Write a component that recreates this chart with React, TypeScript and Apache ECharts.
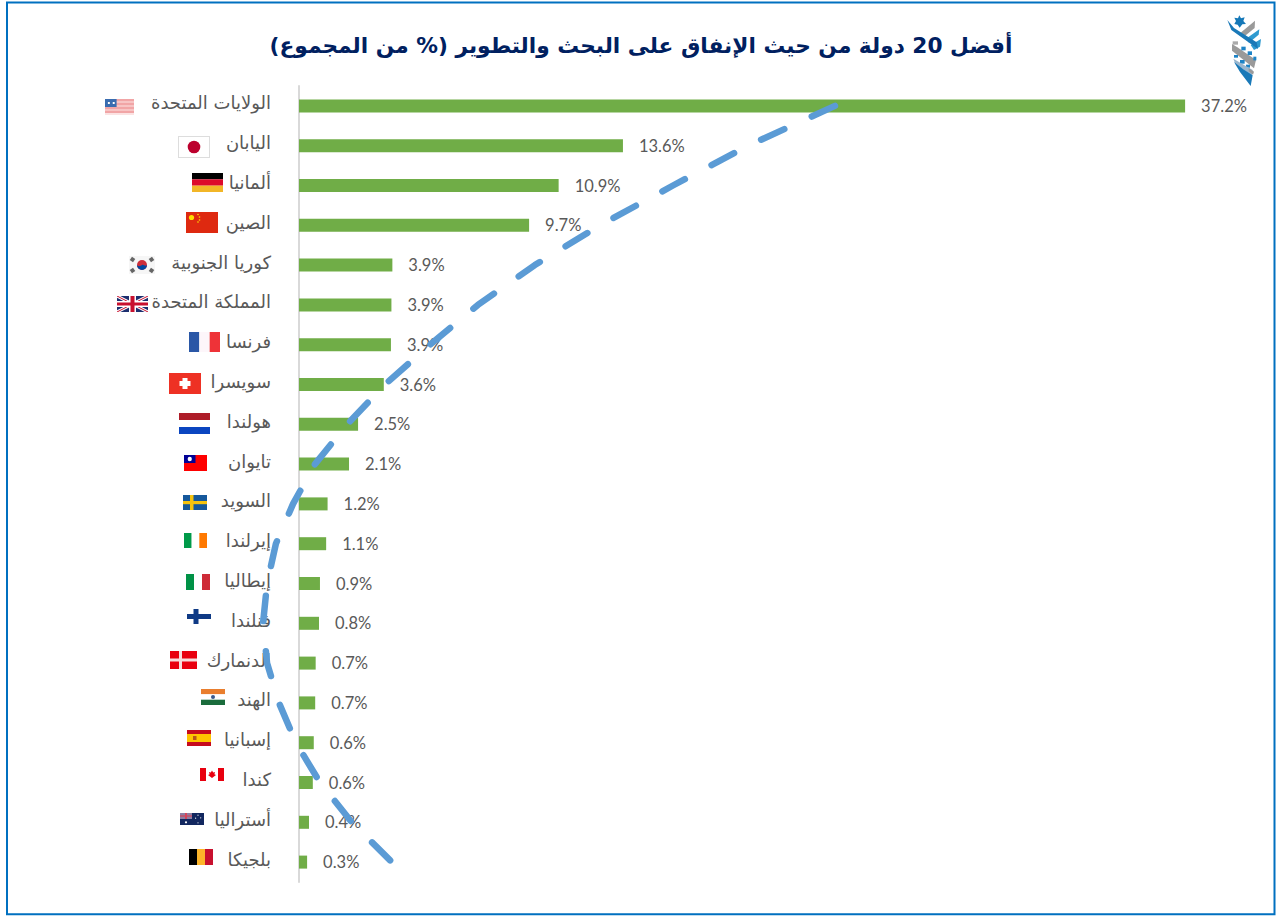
import React, { useEffect, useRef } from "react";
import * as echarts from "echarts";

const titleText = "أفضل 20 دولة من حيث الإنفاق على البحث والتطوير (% من المجموع)\u200F";
const countries = [
  "الولايات المتحدة", "اليابان", "ألمانيا", "الصين", "كوريا الجنوبية",
  "المملكة المتحدة", "فرنسا", "سويسرا", "هولندا", "تايوان",
  "السويد", "إيرلندا", "إيطاليا", "فنلندا", "الدنمارك",
  "الهند", "إسبانيا", "كندا", "أستراليا", "بلجيكا",
];
const shares = [37.2, 13.6, 10.9, 9.66, 3.92, 3.88, 3.86, 3.56, 2.48, 2.1, 1.2, 1.14, 0.88, 0.84, 0.7, 0.68, 0.62, 0.58, 0.42, 0.34];
const trend = [22.5, 18.85, 15.7, 12.64, 9.9, 7.51, 5.5, 3.61, 2.02, 0.67, -0.25, -0.97, -1.34, -1.51, -1.34, -0.84, -0.13, 0.88, 2.22, 3.9];

const svg = (w: number, h: number, body: string) =>
  "data:image/svg+xml;charset=utf-8," +
  encodeURIComponent(`<svg xmlns="http://www.w3.org/2000/svg" viewBox="0 0 ${w} ${h}" preserveAspectRatio="none">${body}</svg>`);
const r = (x: number, y: number, w: number, h: number, f: string) => `<rect x="${x}" y="${y}" width="${w}" height="${h}" fill="${f}"/>`;
const hBands = (cols: string[]) => svg(30, cols.length * 10, cols.map((c, i) => r(0, i * 10, 30, 10, c)).join(""));
const vBands = (cols: string[]) => svg(cols.length * 10, 20, cols.map((c, i) => r(i * 10, 0, 10, 20, c)).join(""));

const usStripes = Array.from({ length: 7 }, (_, i) => r(0, i * 2 + 0.5, 30, 1, i % 2 ? "#f4a6a6" : "#e8686a")).join("");
const flagUS = svg(30, 16, r(0, 0, 30, 16, "#fbe3e3") + usStripes + r(0, 0, 12, 8, "#3a6db0") + r(3, 3, 2, 2, "#fff") + r(8, 3, 2, 2, "#fff"));
const flagJP = svg(32, 22, `<rect x="0.5" y="0.5" width="31" height="21" fill="#fff" stroke="#ddd"/><circle cx="16" cy="11" r="6.3" fill="#bc002d"/>`);
const flagDE = hBands(["#000000", "#dd0a2a", "#f2b627"]);
const flagCN = svg(32, 21, r(0, 0, 32, 21, "#de2910") + `<circle cx="5.5" cy="5.5" r="2.6" fill="#ffde00"/><circle cx="12" cy="2.5" r=".8" fill="#ffde00"/><circle cx="13.5" cy="5" r=".8" fill="#ffde00"/><circle cx="13.5" cy="8" r=".8" fill="#ffde00"/><circle cx="12" cy="10" r=".8" fill="#ffde00"/>`);
const flagKR = svg(26, 18, r(0, 0, 26, 18, "#f6f6f6") + `<circle cx="13" cy="9" r="5" fill="#cd2e3a"/><path d="M8 9a5 5 0 0 0 10 0c-2 2-3-1-5 0s-3 2-5 0z" fill="#0047a0"/><g fill="#666"><rect x="1.5" y="1.5" width="4" height="4" transform="rotate(35 3.5 3.5)"/><rect x="20.5" y="1.5" width="4" height="4" transform="rotate(-35 22.5 3.5)"/><rect x="1.5" y="12.5" width="4" height="4" transform="rotate(-35 3.5 14.5)"/><rect x="20.5" y="12.5" width="4" height="4" transform="rotate(35 22.5 14.5)"/></g>`);
const flagUK = svg(31, 16, r(0, 0, 31, 16, "#1d2f6f") + `<path d="M0 0L31 16M31 0L0 16" stroke="#fff" stroke-width="3"/><path d="M0 0L31 16M31 0L0 16" stroke="#c8102e" stroke-width="1"/>` + r(12, 0, 7, 16, "#fff") + r(0, 5, 31, 6, "#fff") + r(13.5, 0, 4, 16, "#c8102e") + r(0, 6.5, 31, 3, "#c8102e"));
const flagFR = vBands(["#2a57a6", "#fdf6fa", "#ee3338"]);
const flagCH = svg(32, 21, r(0, 0, 32, 21, "#ee3124") + r(13.5, 5, 5, 11, "#fff") + r(10.5, 8, 11, 5, "#fff"));
const flagNL = hBands(["#ae1c28", "#ffffff", "#0a45c0"]);
const flagTW = svg(24, 16, r(0, 0, 24, 16, "#fe0000") + r(0, 0, 12, 8, "#000095") + `<circle cx="6" cy="4" r="2.2" fill="#fff"/>`);
const flagSE = svg(24, 15, r(0, 0, 24, 15, "#15589b") + r(7, 0, 3.5, 15, "#f4c20d") + r(0, 6, 24, 3.2, "#f4c20d"));
const flagIE = vBands(["#009a49", "#ffffff", "#ff7900"]);
const flagIT = vBands(["#009246", "#ffffff", "#ce2b37"]);
const flagFI = svg(24, 15, r(0, 0, 24, 15, "#ffffff") + r(6.5, 0, 5, 15, "#0f3a85") + r(0, 5, 24, 5, "#0f3a85"));
const flagDK = svg(27, 18, r(0, 0, 27, 18, "#e9000f") + r(9, 0, 3, 18, "#f6dede") + r(0, 7.5, 27, 3, "#f6dede"));
const flagIN = svg(24, 16, r(0, 0, 24, 5.3, "#e97e2e") + r(0, 5.3, 24, 5.4, "#ffffff") + r(0, 10.7, 24, 5.3, "#1a6c3c") + `<circle cx="12" cy="8" r="2" fill="#3a5a8c"/>`);
const flagES = svg(24, 16, r(0, 0, 24, 16, "#c60b1e") + r(0, 4, 24, 8, "#ffc400") + r(6, 6, 3.5, 4, "#b8561a"));
const flagCA = svg(24, 13, r(0, 0, 24, 13, "#ffffff") + r(0, 0, 6, 13, "#e8000f") + r(18, 0, 6, 13, "#e8000f") + `<path d="M12 2.5l1.2 2 1.8-.6-.6 2.4 1.6.6-4 3-4-3 1.6-.6-.6-2.4 1.8.6z" fill="#e8000f"/>`);
const flagAU = svg(24, 12, r(0, 0, 24, 12, "#12275f") + r(0, 0, 12, 6, "#8d7fa2") + r(0, 2.4, 12, 1.2, "#d5455a") + r(5, 0, 2, 6, "#d5455a") + `<g fill="#fff"><circle cx="6" cy="9.3" r="1.1"/><circle cx="18" cy="2.2" r=".6"/><circle cx="20.7" cy="4.8" r=".6"/><circle cx="15.6" cy="5.2" r=".6"/><circle cx="18" cy="9.8" r=".6"/></g>`);
const flagBE = vBands(["#000000", "#fdb52a", "#c8102e"]);

const flagSources = [flagUS, flagJP, flagDE, flagCN, flagKR, flagUK, flagFR, flagCH, flagNL, flagTW, flagSE, flagIE, flagIT, flagFI, flagDK, flagIN, flagES, flagCA, flagAU, flagBE];
const flagBoxes = [
  [105, 99, 29, 16], [178, 136, 32, 22], [192, 173, 31, 19], [186, 212, 32, 21], [129, 256, 26, 18],
  [117, 296, 31, 16], [189, 332, 31, 20], [169, 373, 32, 21], [179, 413, 31, 21], [184, 455, 23, 16],
  [183, 495, 24, 15], [184, 533, 23, 15], [186, 574, 24, 16], [187, 609, 24, 15], [170, 651, 27, 18],
  [201, 689, 24, 16], [187, 730, 24, 16], [200, 768, 24, 13], [180, 813, 24, 12], [189, 849, 24, 16],
];

const logoSource = svg(546, 390, `
<polygon points="418,46 423,55 434,52 430,63 438,72 427,73 419,83 413,74 403,72 408,63 403,53 414,55" fill="#1578b8"/>
<polygon points="465,62 464,84 430,112 420,100" fill="#9a9a9a"/>
<polygon points="478,88 476,104 447,128 438,116" fill="#2e9ad0"/>
<polygon points="483,117 480,140 462,150 452,135" fill="#2e9ad0"/>
<polygon points="382,60 394,90 474,147 470,127 402,84" fill="#1a79b8"/>
<polygon points="396,132 396,152 462,205 468,180 412,142" fill="#9a9a9a"/>
<rect x="398" y="124" width="16" height="10" fill="#aaaaaa"/>
<g fill="#1d83c6"><rect x="424" y="140" width="13" height="11"/><rect x="443" y="154" width="13" height="11"/><rect x="460" y="170" width="9" height="11"/><rect x="402" y="165" width="12" height="8"/><rect x="420" y="180" width="14" height="11"/><rect x="438" y="194" width="12" height="9"/></g>
<polygon points="400,176 406,192 456,226 458,210" fill="#9ab7cf"/>
<polygon points="402,186 420,216 452,258 458,226 430,208" fill="#1a79b8"/>
<polygon points="446,204 462,215 459,224 446,214" fill="#9a9a9a"/>`);

export default function App() {
  const ref = useRef<HTMLDivElement>(null);
  useEffect(() => {
    document.body.style.margin = "0";
    const chart = echarts.init(ref.current!, null, { renderer: "svg" });
    chart.setOption({
      animation: false,
      backgroundColor: "#ffffff",
      grid: { left: 299, top: 86, width: 952.8, height: 796, containLabel: false },
      xAxis: { type: "value", min: 0, max: 40, show: false },
      yAxis: {
        type: "category",
        inverse: true,
        data: countries,
        axisTick: { show: false },
        splitLine: { show: false },
        axisLine: { show: true, lineStyle: { color: "#D9D9D9", width: 2 } },
        axisLabel: { margin: 28, fontFamily: "DejaVu Sans", fontSize: 18, color: "#595959", lineHeight: 6, verticalAlign: "bottom" },
      },
      series: [
        {
          type: "bar",
          z: 2,
          data: shares,
          barWidth: 13,
          itemStyle: { color: "#70AD47" },
          label: {
            show: true,
            position: "right",
            distance: 16,
            fontFamily: "Lato",
            fontSize: 16.5,
            color: "#595959",
            padding: [0, 0, 3, 0],
            formatter: (p: any) => p.value.toFixed(1) + "%",
          },
        },
        {
          type: "line",
          z: 10,
          clip: false,
          data: trend.map((v, i) => [v, countries[i]]),
          symbol: "none",
          lineStyle: { color: "#5B9BD5", width: 6.5, type: [25.5, 30.2], cap: "round", join: "round" },
        },
      ],
      graphic: [
        { type: "rect", silent: true, shape: { x: 7, y: 2.5, width: 1267.5, height: 911.8 }, style: { fill: "none", stroke: "#0070C0", lineWidth: 2 } },
        { type: "text", x: 641, y: 45, style: { text: titleText, fontFamily: "DejaVu Sans", fontWeight: "bold", fontSize: 21.7, fill: "#002060", align: "center", verticalAlign: "middle" } },
        { type: "image", x: 1100, y: 0, style: { image: logoSource, width: 182, height: 130 } },
        ...flagSources.map((src, i) => ({
          type: "image",
          x: flagBoxes[i][0],
          y: flagBoxes[i][1],
          style: { image: src, width: flagBoxes[i][2], height: flagBoxes[i][3] },
        })),
      ],
    });
    return () => chart.dispose();
  }, []);
  return <div ref={ref} style={{ width: 1282, height: 916 }} />;
}
